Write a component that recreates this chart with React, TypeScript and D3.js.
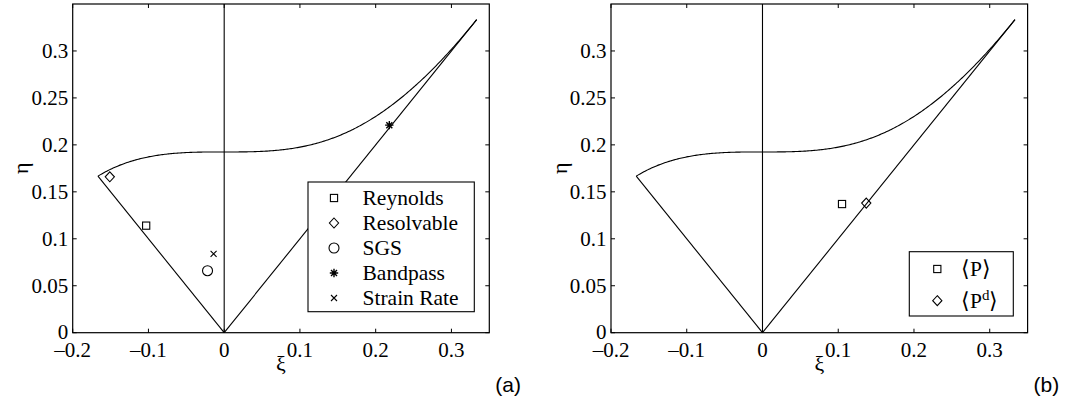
import React from "react";
import * as d3 from "d3";

// Axis settings and ticks
const xTicks = [-0.2, -0.1, 0, 0.1, 0.2, 0.3];
const xTickLabels = ["\u20130.2", "\u20130.1", "0", "0.1", "0.2", "0.3"];
const yTicks = [0, 0.05, 0.1, 0.15, 0.2, 0.25, 0.3];
const yTickLabels = ["0", "0.05", "0.1", "0.15", "0.2", "0.25", "0.3"];

// Lumley triangle straight edges (vertices)
const leftEdge: [number, number][] = [[0, 0], [-1 / 6, 1 / 6]];
const rightEdge: [number, number][] = [[0, 0], [1 / 3, 1 / 3]];
const axisLine: [number, number][] = [[0, 0], [0, 0.35]];

// Panel (a) data
const seriesA = ["Reynolds", "Resolvable", "SGS", "Bandpass", "Strain Rate"];
const markersA = ["square", "diamond", "circle", "star", "x"];
const xiA = [-0.103, -0.151, -0.022, 0.218, -0.014];
const etaA = [0.114, 0.166, 0.066, 0.221, 0.084];

// Panel (b) data
const seriesB = ["P", "Pd"];
const markersB = ["square", "diamond"];
const xiB = [0.105, 0.137];
const etaB = [0.137, 0.138];

const W = 1069;
const H = 398;
const TOP = 4;
const BOTTOM = 332.7;
const PW = 416.6;

// two-component limit curve of the Lumley triangle: eta^2 = 1/27 + 2 xi^3
const twoComp: [number, number][] = d3
  .range(0, 301)
  .map((i) => {
    const xi = -1 / 6 + (i / 300) * (1 / 3 + 1 / 6);
    return [xi, Math.sqrt(Math.max(0, 1 / 27 + 2 * xi * xi * xi))];
  });

function Marker({ type, cx, cy }: { type: string; cx: number; cy: number }) {
  const st = { fill: "none", stroke: "#000", strokeWidth: 1.1 };
  if (type === "square") {
    const s = 3.6;
    return <rect x={cx - s} y={cy - s} width={2 * s} height={2 * s} {...st} />;
  }
  if (type === "diamond") {
    const a = 4.6;
    const b = 5;
    return (
      <path d={`M${cx},${cy - b}L${cx + a},${cy}L${cx},${cy + b}L${cx - a},${cy}Z`} {...st} />
    );
  }
  if (type === "circle") {
    return <circle cx={cx} cy={cy} r={5} {...st} />;
  }
  if (type === "x") {
    const s = 3;
    return (
      <path d={`M${cx - s},${cy - s}L${cx + s},${cy + s}M${cx - s},${cy + s}L${cx + s},${cy - s}`} {...st} />
    );
  }
  if (type === "star") {
    const s = 4.2;
    const d = 3;
    return (
      <path
        d={`M${cx - s},${cy}L${cx + s},${cy}M${cx},${cy - s}L${cx},${cy + s}M${cx - d},${cy - d}L${cx + d},${cy + d}M${cx - d},${cy + d}L${cx + d},${cy - d}`}
        fill="none"
        stroke="#000"
        strokeWidth={1.4}
      />
    );
  }
  return null;
}

function Panel({
  left,
  xi,
  eta,
  markers,
  label,
  legend,
}: {
  left: number;
  xi: number[];
  eta: number[];
  markers: string[];
  label: string;
  legend: React.ReactNode;
}) {
  const x = d3.scaleLinear().domain([-0.2, 0.35]).range([left, left + PW]);
  const y = d3.scaleLinear().domain([0, 0.35]).range([BOTTOM, TOP]);
  const line = d3
    .line<[number, number]>()
    .x((d) => x(d[0]))
    .y((d) => y(d[1]));
  const tl = 4;
  return (
    <g>
      <path d={line(twoComp) || ""} fill="none" stroke="#000" strokeWidth={1.1} />
      <path d={line(leftEdge) || ""} fill="none" stroke="#000" strokeWidth={1.1} />
      <path d={line(rightEdge) || ""} fill="none" stroke="#000" strokeWidth={1.1} />
      <path d={line(axisLine) || ""} fill="none" stroke="#000" strokeWidth={1.1} />
      {xi.map((v, i) => (
        <Marker key={i} type={markers[i]} cx={x(v)} cy={y(eta[i])} />
      ))}
      <rect x={left} y={TOP} width={PW} height={BOTTOM - TOP} fill="none" stroke="#000" strokeWidth={1.2} />
      {xTicks.map((t, i) => (
        <g key={"xt" + i}>
          <line x1={x(t)} x2={x(t)} y1={BOTTOM} y2={BOTTOM - tl} stroke="#000" strokeWidth={1} />
          <line x1={x(t)} x2={x(t)} y1={TOP} y2={TOP + tl} stroke="#000" strokeWidth={1} />
          <text className="sf" x={x(t)} y={356.5} textAnchor="middle" fontSize={21}>
            {xTickLabels[i]}
          </text>
        </g>
      ))}
      {yTicks.map((t, i) => (
        <g key={"yt" + i}>
          <line x1={left} x2={left + tl} y1={y(t)} y2={y(t)} stroke="#000" strokeWidth={1} />
          <line x1={left + PW} x2={left + PW - tl} y1={y(t)} y2={y(t)} stroke="#000" strokeWidth={1} />
          <text className="sf" x={left - 4.5} y={y(t) + (i === 0 ? 6 : 7.3)} textAnchor="end" fontSize={21}>
            {yTickLabels[i]}
          </text>
        </g>
      ))}
      <text className="sf" x={left + PW / 2} y={371} textAnchor="middle" fontSize={22}>
        ξ
      </text>
      <text
        className="sf"
        transform={`translate(${left - 52},${(TOP + BOTTOM) / 2}) rotate(-90)`}
        textAnchor="middle"
        dominantBaseline="central"
        fontSize={22}
      >
        η
      </text>
      {legend}
      <text className="ss" x={left + PW + 6} y={392} fontSize={21}>
        {label}
      </text>
    </g>
  );
}

export default function App() {
  const legendA = (
    <g>
      <rect x={308} y={182} width={166.3} height={129.7} fill="#fff" stroke="#000" strokeWidth={1.1} />
      {seriesA.map((s, i) => (
        <g key={s}>
          <Marker type={markersA[i]} cx={334} cy={198 + i * 25} />
          <text className="sf" x={362.5} y={198 + i * 25 + 7} fontSize={21.5}>
            {s}
          </text>
        </g>
      ))}
    </g>
  );
  const legendB = (
    <g>
      <rect x={909.3} y={251.7} width={104} height={64.3} fill="#fff" stroke="#000" strokeWidth={1.1} />
      {seriesB.map((s, i) => (
        <g key={s}>
          <Marker type={markersB[i]} cx={937.3} cy={269 + i * 31.7} />
          <text className="sf" x={961} y={269 + i * 31.7 + 7} fontSize={21.5}>
            {"\u27E8P"}
            {s === "Pd" ? (
              <tspan dy={-8} fontSize={15}>
                d
              </tspan>
            ) : null}
            {s === "Pd" ? <tspan dy={8}>{"\u27E9"}</tspan> : "\u27E9"}
          </text>
        </g>
      ))}
    </g>
  );
  return (
    <svg
      width={W}
      height={H}
      fontFamily="Liberation Serif"
      style={{ position: "fixed", left: 0, top: 0, background: "#fff", fontFamily: "Liberation Serif" }}
    >
      <style>{`
        text { fill: #000; }
        .sf { font-family: "Liberation Serif"; }
        .ss { font-family: "Liberation Sans"; }
      `}</style>
      <rect x={0} y={0} width={W} height={H} fill="#fff" />
      <Panel left={72.7} xi={xiA} eta={etaA} markers={markersA} label="(a)" legend={legendA} />
      <Panel left={611} xi={xiB} eta={etaB} markers={markersB} label="(b)" legend={legendB} />
    </svg>
  );
}
